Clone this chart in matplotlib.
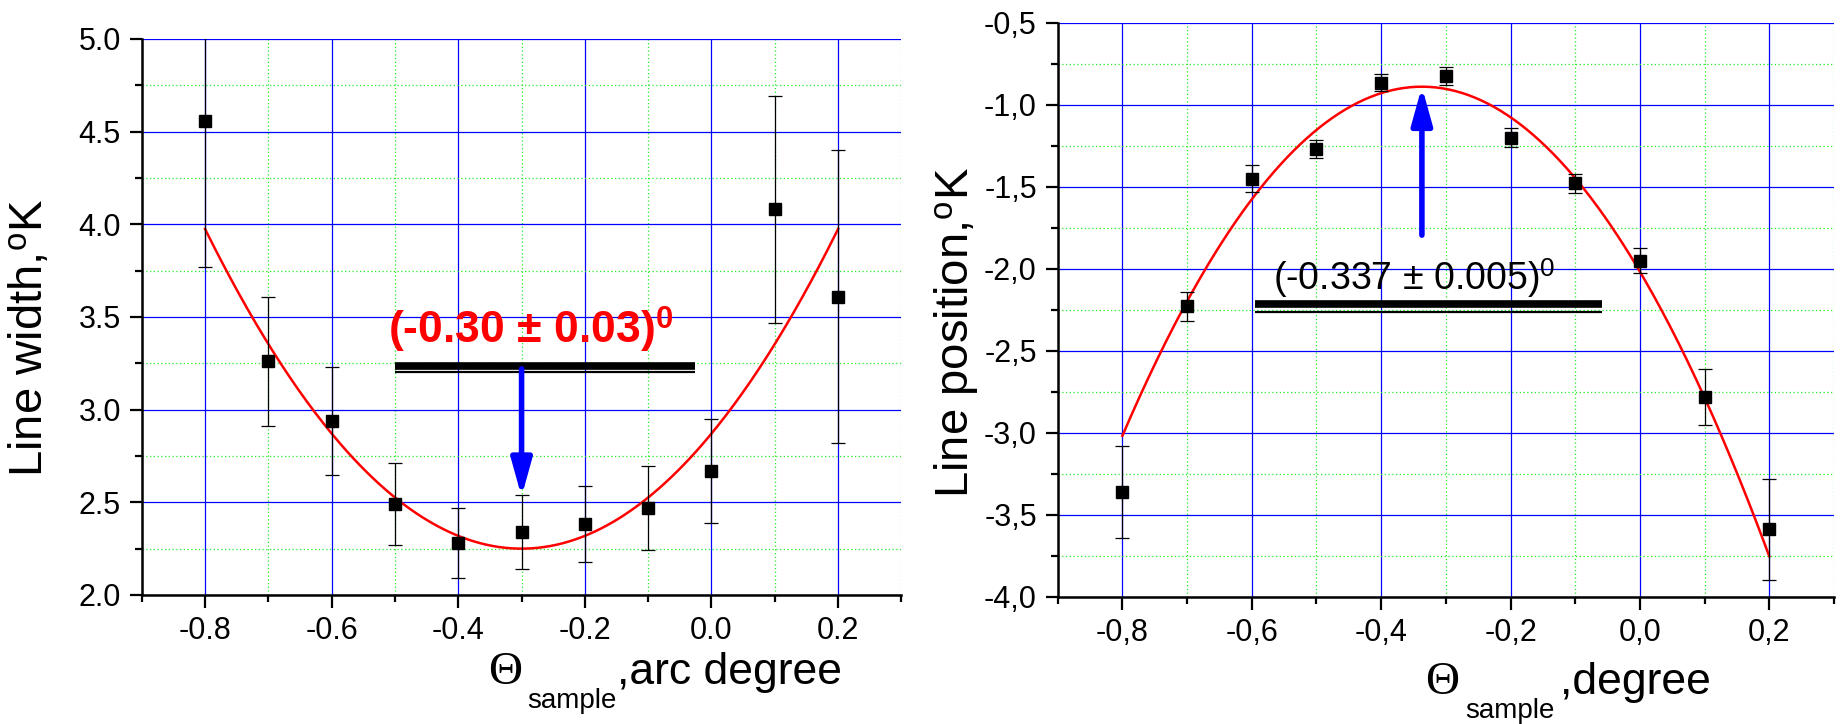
import matplotlib
matplotlib.use('Agg')
import matplotlib.pyplot as plt
from matplotlib.ticker import MultipleLocator, FuncFormatter
import numpy as np

plt.rcParams['font.family'] = ['Liberation Sans', 'DejaVu Sans']
plt.rcParams['mathtext.fontset'] = 'custom'
plt.rcParams['mathtext.rm'] = 'Liberation Serif'
plt.rcParams['mathtext.it'] = 'Liberation Serif:italic'
plt.rcParams['mathtext.sf'] = 'Liberation Sans'
plt.rcParams['mathtext.bf'] = 'Liberation Sans:bold'

W, H = 1843, 724

# sample angle, degrees
theta = [-0.8, -0.7, -0.6, -0.5, -0.4, -0.3, -0.2, -0.1, 0.0, 0.1, 0.2]

# line width and its errors
width = [4.56, 3.26, 2.94, 2.49, 2.28, 2.34, 2.385, 2.47, 2.67, 4.08, 3.61]
width_err = [0.79, 0.35, 0.29, 0.22, 0.19, 0.20, 0.205, 0.225, 0.28, 0.61, 0.79]

# line position and its errors
position = [-3.36, -2.23, -1.45, -1.27, -0.865, -0.825, -1.20, -1.48, -1.95, -2.78, -3.59]
position_err = [0.28, 0.09, 0.08, 0.055, 0.05, 0.055, 0.06, 0.06, 0.075, 0.17, 0.31]

# parabolic fits: a*(x - x0)**2 + c
width_fit = dict(a=6.9, x0=-0.30, c=2.25)
position_fit = dict(a=-9.93, x0=-0.337, c=-0.89)

width_label = r'(-0.30 ± 0.03)$^{\mathbf{0}}$'
position_label = r'(-0.337 ± 0.005)$^{\mathsf{0}}$'


def parabola(x, a, x0, c):
    return a * (x - x0) ** 2 + c


def style_axes(ax, ylim, ymajor, comma=False):
    ax.set_xlim(-0.9, 0.3)
    ax.set_ylim(*ylim)
    ax.xaxis.set_major_locator(MultipleLocator(0.2))
    ax.xaxis.set_minor_locator(MultipleLocator(0.1))
    ax.yaxis.set_major_locator(MultipleLocator(ymajor))
    ax.yaxis.set_minor_locator(MultipleLocator(ymajor / 2))
    for side in ['top', 'right']:
        ax.spines[side].set_visible(False)
    for side in ['left', 'bottom']:
        ax.spines[side].set_linewidth(1.8)
    ax.tick_params(which='major', direction='out', length=9, width=1.6,
                   labelsize=22, pad=6)
    ax.tick_params(which='minor', direction='out', length=5, width=1.6)
    ax.grid(which='major', color='#0000ff', lw=0.9, ls='-')
    ax.grid(which='minor', color='#22ee22', lw=0.9, ls=(0, (1, 2)))
    ax.set_axisbelow(True)
    if comma:
        fmt = FuncFormatter(lambda v, p: '{:.1f}'.format(v).replace('.', ','))
    else:
        fmt = FuncFormatter(lambda v, p: '{:.1f}'.format(v))
    ax.xaxis.set_major_formatter(fmt)
    ax.yaxis.set_major_formatter(fmt)


def draw_panel(ax, y, yerr, fit):
    ax.errorbar(theta, y, yerr=yerr, fmt='s', color='black', ms=8,
                ecolor='black', elinewidth=0.9, capsize=5, capthick=0.9,
                zorder=4)
    xs = np.linspace(theta[0], theta[-1], 300)
    ax.plot(xs, parabola(xs, **fit), color='red', lw=1.8, zorder=3)


def double_bar(ax, x1, x2, y_thick, y_thin):
    ax.plot([x1, x2], [y_thick, y_thick], color='black', lw=5.5,
            solid_capstyle='butt', zorder=5)
    ax.plot([x1, x2], [y_thin, y_thin], color='black', lw=1.6,
            solid_capstyle='butt', zorder=5)


def blue_arrow(ax, x, y_from, y_to):
    ax.annotate('', xy=(x, y_to), xytext=(x, y_from),
                arrowprops=dict(arrowstyle='-|>,head_length=0.9,head_width=0.25',
                                mutation_scale=25, lw=4, color='blue',
                                shrinkA=0, shrinkB=0),
                zorder=6)


def theta_label(x, base, x_sub, x_rest, rest):
    # big serif Theta, lowered "sample" subscript, then the unit text
    fig.text(x / W, 1 - base / H, '\u0398', family='Liberation Serif',
             fontsize=34, va='baseline', ha='left')
    fig.text(x_sub / W, 1 - (base + 24) / H, 'sample', fontsize=20,
             va='baseline', ha='left')
    fig.text(x_rest / W, 1 - base / H, rest, fontsize=32,
             va='baseline', ha='left')


fig = plt.figure(figsize=(W / 100, H / 100), dpi=100)

# left panel: line width
ax1 = fig.add_axes([0.0769, 0.1782, 0.4122, 0.768])
style_axes(ax1, (2.0, 5.0), 0.5)
draw_panel(ax1, width, width_err, width_fit)
double_bar(ax1, -0.50, -0.026, 3.237, 3.203)
blue_arrow(ax1, width_fit['x0'], 3.22, 2.53)
ax1.text(-0.511, 3.36, width_label, color='red', fontsize=32,
         fontweight='bold', ha='left', va='baseline', zorder=7)
ax1.set_ylabel(r'Line width,$^{\mathsf{o}}$K', fontsize=34)
ax1.yaxis.set_label_coords(-0.118, 0.462)
theta_label(488, 684, 527, 617, ',arc degree')

# right panel: line position
ax2 = fig.add_axes([0.5739, 0.1758, 0.4212, 0.7928])
style_axes(ax2, (-4.0, -0.5), 0.5, comma=True)
draw_panel(ax2, position, position_err, position_fit)
double_bar(ax2, -0.595, -0.059, -2.218, -2.262)
blue_arrow(ax2, position_fit['x0'], -1.795, position_fit['c'])
ax2.text(-0.567, -2.13, position_label, color='black', fontsize=27,
         ha='left', va='baseline', zorder=7)
ax2.set_ylabel(r'Line position,$^{\mathsf{o}}$K', fontsize=34)
ax2.yaxis.set_label_coords(-0.100, 0.461)
theta_label(1425, 694, 1465, 1560, ',degree')

fig.savefig('out.png', dpi=100)
